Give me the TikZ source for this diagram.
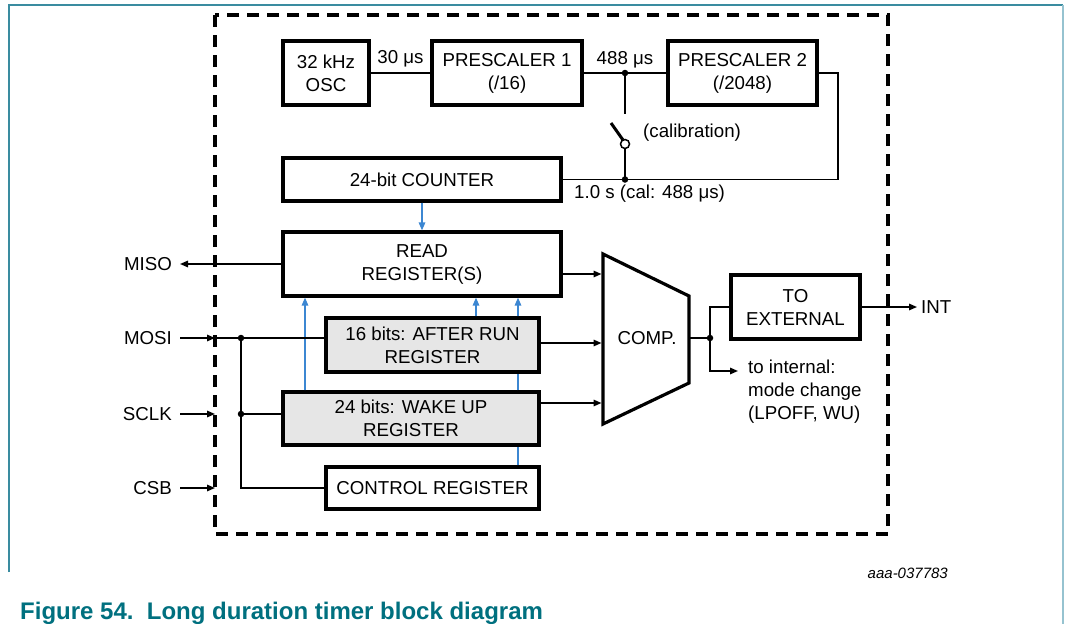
\documentclass[tikz,border=0pt]{standalone}
\usepackage{fontspec}
\setmainfont{Liberation Sans}
\usetikzlibrary{arrows.meta,calc}
\definecolor{frameteal}{RGB}{58,140,160}
\definecolor{framelight}{RGB}{150,195,208}
\definecolor{capteal}{RGB}{0,112,127}
\definecolor{sigblue}{RGB}{60,135,210}
\definecolor{regfill}{RGB}{230,230,230}
\begin{document}
\begin{tikzpicture}[x=1pt,y=-1pt,
  blk/.style={draw,line width=3.2pt,inner sep=0pt,align=center,font=\fontsize{18.7}{23}\selectfont},
  reg/.style={blk,fill=regfill},
  wire/.style={line width=1.5pt},
  arr/.style={wire,-{Triangle[length=8pt,width=6.5pt]}},
  barr/.style={line width=1.5pt,draw=sigblue,-{Triangle[length=8pt,width=6.5pt]},fill=sigblue},
  bline/.style={line width=1.5pt,draw=sigblue},
  lbl/.style={font=\fontsize{18.7}{23}\selectfont,inner sep=0pt,align=left},
  dot/.style={circle,fill,inner sep=0pt,minimum size=6.5pt},
]
\useasboundingbox (0,0) rectangle (1066,624);
\fill[white] (0,0) rectangle (1066,624);
% page frame
\draw[frameteal,line width=2pt] (9,572) -- (9,5) -- (1063,5);
\draw[framelight,line width=2pt] (1063,5) -- (1063,624);
% dashed chip boundary
\draw[line width=3.2pt,dash pattern=on 12pt off 8pt] (215,15) rectangle (888,534);

% blocks
\node[blk,minimum width=86pt,minimum height=64pt] (osc) at (326,73) {32 kHz\\OSC};
\node[blk,minimum width=150pt,minimum height=64pt] (p1) at (507,73) {PRESCALER 1\\(/16)};
\node[blk,minimum width=149pt,minimum height=64pt] (p2) at (742.5,73) {PRESCALER 2\\(/2048)};
\node[blk,minimum width=278pt,minimum height=43pt] (cnt) at (422,179.5) {24-bit COUNTER};
\node[blk,minimum width=278pt,minimum height=64pt] (rd) at (422,264) {READ\\REGISTER(S)};
\node[reg,minimum width=213pt,minimum height=54pt] (ar) at (432.5,345) {16 bits: AFTER RUN\\REGISTER};
\node[reg,minimum width=256pt,minimum height=53pt] (wu) at (411,418.5) {24 bits: WAKE UP\\REGISTER};
\node[blk,minimum width=213pt,minimum height=42pt] (ctl) at (432.5,488) {CONTROL REGISTER};
\node[blk,minimum width=129pt,minimum height=64pt] (ext) at (795.5,307) {TO\\EXTERNAL};

% comparator
\draw[line width=3.2pt,line join=miter] (603,254) -- (689,296) -- (689,383) -- (603,424) -- cycle;
\node[lbl] (comp) at (647,338) {COMP.};
\coordinate (compw) at (601.5,338);
\coordinate (compe) at (689,338);

% clock chain
\draw[wire] (osc) -- node[lbl,above=5pt]{30 μs} (p1);
\coordinate (j1) at (625,73);
\coordinate (j2) at (625,179.5);
\draw[wire] (p1) -- (j1) -- (p2);
\node[dot] at (j1) {};
\node[lbl,above=5pt] at (j1) {488 μs};
% calibration switch
\coordinate (swt) at (625,114);
\draw[wire] (j1) -- (swt);
\draw[line width=3pt] (611,123) -- (623,140);
\node[circle,draw,line width=1.5pt,fill=white,minimum size=9pt,inner sep=0pt] (sw) at (625,144) {};
\draw[wire] (sw) -- (j2);
\node[lbl,anchor=west] at (643,133) {(calibration)};
% loop back to counter
\coordinate (loopx) at (838,100);
\draw[wire] (p2.east) -- (p2.east -| loopx) -- (loopx |- cnt.east) -- (cnt.east);
\node[dot] at (j2) {};
\node[lbl,anchor=west] at (574,194) {1.0 s (cal: 488 μs)};

% blue data paths
\draw[barr] (cnt) -- (rd);
\coordinate (b1) at (305,0);
\coordinate (b2) at (476,0);
\coordinate (b3) at (518,0);
\draw[barr] (b1 |- wu.north) -- (b1 |- rd.south);
\draw[barr] (b2 |- ar.north) -- (b2 |- rd.south);
\draw[barr] (b3 |- ar.north) -- (b3 |- rd.south);
\draw[bline] (b3 |- wu.north) -- (b3 |- ar.south);
\draw[bline] (b3 |- ctl.north) -- (b3 |- wu.south);

% SPI pins
\coordinate (misoend) at (180,264);
\draw[arr] (rd.west) -- (misoend);
\node[lbl,anchor=east] at (172,264) {MISO};

\coordinate (mosiin) at (180,338);
\coordinate (mosib) at (215,338);
\coordinate (jm) at (241,338);
\coordinate (jw) at (241,414);
\draw[arr] (mosiin) -- (mosib);
\draw[wire] (mosib) -- (ar.west |- jm);
\draw[wire] (jm) -- (jm |- ctl.west) -- (ctl.west);
\draw[wire] (jw) -- (wu.west |- jw);
\node[dot] at (jm) {};
\node[dot] at (jw) {};
\node[lbl,anchor=east] at (172,338) {MOSI};

\coordinate (sclkin) at (180,414);
\coordinate (sclkb) at (215,414);
\draw[arr] (sclkin) -- (sclkb);
\node[lbl,anchor=east] at (172,414) {SCLK};

\coordinate (csbin) at (180,488);
\coordinate (csbb) at (215,488);
\draw[arr] (csbin) -- (csbb);
\node[lbl,anchor=east] at (172,488) {CSB};

% registers to comparator
\coordinate (rdo) at ([yshift=-10pt]rd.east);
\coordinate (aro) at ([yshift=2pt]ar.east);
\coordinate (wuo) at ([yshift=15.5pt]wu.east);
\draw[arr] (rdo) -- (compw |- rdo);
\draw[arr] (aro) -- (compw |- aro);
\draw[arr] (wuo) -- (compw |- wuo);

% comparator outputs
\coordinate (jo) at (710,338);
\coordinate (intl) at (738,371);
\draw[wire] (compe) -- (jo);
\draw[wire] (jo) |- (ext.west);
\draw[arr] (jo) |- (intl);
\node[dot] at (jo) {};
\node[lbl,anchor=north west] at (748,359.5) {to internal:\\mode change\\(LPOFF, WU)};

\coordinate (intend) at (917,307);
\draw[arr] (ext.east) -- (intend);
\node[lbl,anchor=west] at (921,307) {INT};

% figure id and caption
\node[inner sep=0pt,anchor=base east,font=\fontsize{15}{18}\selectfont\itshape] (figid) at (948,578) {aaa-037783};
\node[inner sep=0pt,anchor=base west,text=capteal,font=\fontsize{24}{28}\selectfont\bfseries] (cap) at (20,619) {Figure 54.\ \ Long duration timer block diagram};
\end{tikzpicture}
\end{document}
